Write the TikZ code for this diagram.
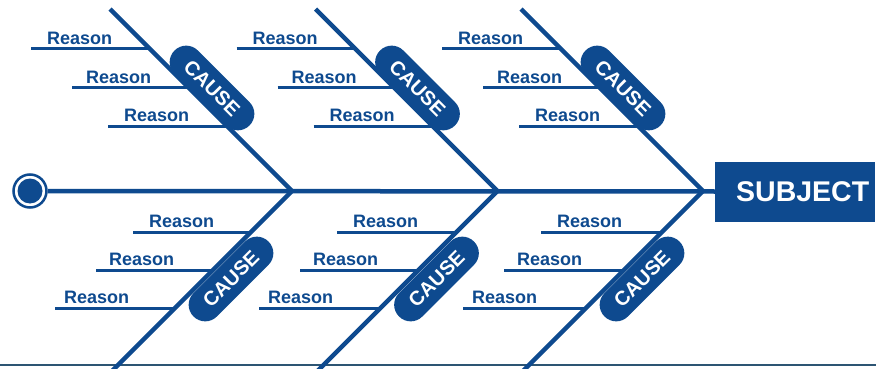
\documentclass[tikz,border=0pt]{standalone}
\usepackage{fontspec}
\setmainfont{Liberation Sans}
\definecolor{fb}{RGB}{14,74,143}
\definecolor{bl}{RGB}{45,85,115}
\begin{document}
\begin{tikzpicture}[x=1pt,y=-1pt,
  bone/.style={draw=fb, line width=4.5pt, line join=miter},
  rline/.style={draw=fb, line width=3pt},
  reason/.style={anchor=base west, inner sep=0pt, text=fb, font=\fontsize{18}{18}\selectfont\bfseries},
  pill/.style={fill=fb, rounded corners=16.4pt, minimum width=106pt, minimum height=33pt, inner sep=0pt, text=white, font=\fontsize{20}{20}\selectfont\bfseries},
  subjbox/.style={fill=fb, minimum width=160pt, minimum height=60pt, inner sep=0pt, anchor=west},
  subjtext/.style={text=white, inner sep=0pt, font=\fontsize{28.5}{28.5}\selectfont\bfseries}]
\useasboundingbox (0,0) rectangle (876,369);
\clip (0,0) rectangle (876,369);
\fill[white] (0,0) rectangle (876,369);
% bottom rule
\coordinate (bl0) at (0,365);
\coordinate (bl1) at (876,365);
\draw[bl, line width=2pt] (bl0) -- (bl1);
% head and tail
\node[circle, draw=fb, line width=2.5pt, minimum size=33pt, inner sep=0pt] (start) at (30,191) {};
\node[circle, fill=fb, minimum size=25pt, inner sep=0pt] (dot) at (start.center) {};
\node[subjbox] (subj) at (715,191.5) {};
\node[subjtext] (subjlabel) at ([xshift=7.5pt]subj.center) {SUBJECT};
\draw[bone] (start.east) -- (subj.west);
\foreach \i in {0,1,2}{
  \pgfmathsetmacro{\J}{292+205.5*\i}
  \coordinate (j\i) at (\J,191);
  \coordinate (t\i) at (\J-182,9);
  \coordinate (b\i) at (\J-187,378);
  \draw[bone] (t\i) -- (j\i) -- (b\i);
  % top reasons
  \foreach \y/\x/\tx [count=\k] in {49/31/47, 88/72/86, 126/108/124}{
    \coordinate (tl\i\k) at (\x+205.5*\i,\y);
    \coordinate (tr\i\k) at (\y+\J-191,\y);
    \draw[rline] (tl\i\k) -- (tr\i\k);
    \node[reason] (tn\i\k) at (\tx+205.5*\i,\y-4.8) {Reason};
  }
  % bottom reasons
  \foreach \y/\x/\tx [count=\k] in {232/133/149, 270/96/109, 308/55/64}{
    \coordinate (bl\i\k) at (\x+204*\i,\y);
    \coordinate (br\i\k) at (\J+191-\y,\y);
    \draw[rline] (bl\i\k) -- (br\i\k);
    \node[reason] (bn\i\k) at (\tx+204*\i,\y-4.8) {Reason};
  }
  \node[pill, rotate=-45] (ct\i) at (\J-80,88) {CAUSE};
  \node[pill, rotate=45] (cb\i) at (\J-61,279) {CAUSE};
}
\end{tikzpicture}
\end{document}
